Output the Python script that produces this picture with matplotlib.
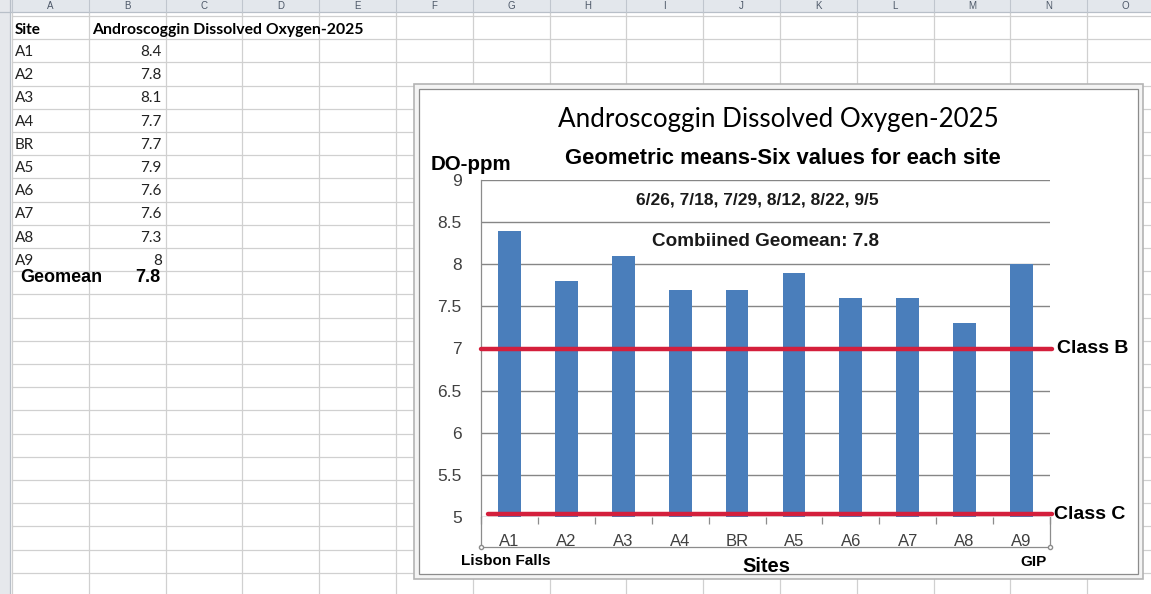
import matplotlib
matplotlib.use("Agg")
import matplotlib.pyplot as plt
from matplotlib.patches import Rectangle
import numpy as np

# ---------------- data ----------------
sites = ["A1", "A2", "A3", "A4", "BR", "A5", "A6", "A7", "A8", "A9"]
do_ppm = [8.4, 7.8, 8.1, 7.7, 7.7, 7.9, 7.6, 7.6, 7.3, 8.0]
geomean = 7.8
class_b_level = 7.0
class_c_level = 5.03
y_ticks = [5, 5.5, 6, 6.5, 7, 7.5, 8, 8.5, 9]
column_letters = list("ABCDEFGHIJKLMNO")
sheet_title = "Androscoggin Dissolved Oxygen-2025"
chart_title = "Androscoggin Dissolved Oxygen-2025"
chart_subtitle = "Geometric means-Six values for each site"
sampling_dates = "6/26, 7/18, 7/29, 8/12, 8/22, 9/5"
combined_note = "Combiined Geomean: 7.8"

# ---------------- figure ----------------
W, H = 1151, 594
fig = plt.figure(figsize=(W / 100, H / 100), dpi=100)
fig.patch.set_facecolor("white")

bg = fig.add_axes([0, 0, 1, 1])
bg.set_xlim(0, W)
bg.set_ylim(H, 0)
bg.axis("off")

CAL = ["Lato", "DejaVu Sans"]
ARIAL = ["Liberation Sans", "DejaVu Sans"]
NARROW = ["Liberation Sans Narrow", "Liberation Sans", "DejaVu Sans"]

grid_c = "#d0d0d0"
col_w = 76.8
col_x0 = 12
row_h = 23.2
row_y0 = 16

# spreadsheet grid
for k in range(16):
    x = col_x0 + k * col_w
    bg.plot([x, x], [12, H], color=grid_c, lw=0.9, zorder=1)
for k in range(26):
    y = row_y0 + k * row_h
    bg.plot([col_x0, W], [y, y], color=grid_c, lw=0.9, zorder=1)

# header band & row-header strip
bg.add_patch(Rectangle((0, 0), W, 12, facecolor="#e3e7ec", edgecolor="none", zorder=2))
bg.plot([0, W], [12, 12], color="#b8bfc8", lw=0.9, zorder=3)
bg.add_patch(Rectangle((0, 0), 10, H, facecolor="#e6e8ec", edgecolor="none", zorder=2))
bg.plot([10.5, 10.5], [0, H], color="#b8bfc8", lw=0.9, zorder=3)
for k, letter in enumerate(column_letters):
    x = col_x0 + (k + 0.5) * col_w
    bg.text(x, 6, letter, ha="center", va="center", fontsize=7,
            color="#4d5868", family=ARIAL, zorder=4)
    bg.plot([col_x0 + k * col_w] * 2, [0, 12], color="#c0c6ce", lw=0.8, zorder=3)

# cell texts
bg.text(15, 30, "Site", ha="left", va="center", fontsize=11, weight="bold", family=CAL, zorder=4)
bg.text(92, 30, sheet_title, ha="left", va="center", fontsize=11.3, weight="bold", family=CAL, zorder=4)
for i, (s, v) in enumerate(zip(sites, do_ppm)):
    y = 52 + i * row_h
    bg.text(15, y, s, ha="left", va="center", fontsize=11, family=CAL, color="#222222", zorder=4)
    bg.text(162, y, f"{v:g}", ha="right", va="center", fontsize=11, family=CAL, color="#222222", zorder=4)
bg.text(20, 277, "Geomean", ha="left", va="center", fontsize=13, weight="bold", family=ARIAL, zorder=4)
bg.text(160, 277, f"{geomean:g}", ha="right", va="center", fontsize=13, weight="bold", family=ARIAL, zorder=4)

# chart object frame
bg.add_patch(Rectangle((414, 84), 729, 495, facecolor="#f4f4f4", edgecolor="#b4b4b4", lw=1.2, zorder=5))
bg.add_patch(Rectangle((419, 89), 719, 485, facecolor="white", edgecolor="#8c8c8c", lw=0.9, zorder=6))

# chart texts
bg.text(778, 120, chart_title, ha="center", va="center", fontsize=18.7, family=CAL, color="black", zorder=8)
bg.text(783, 158, chart_subtitle, ha="center", va="center", fontsize=15.8, weight="bold", family=ARIAL, zorder=8)
bg.text(431, 164, "DO-ppm", ha="left", va="center", fontsize=14.8, weight="bold", family=ARIAL, zorder=8)
bg.text(757, 200, sampling_dates, ha="center", va="center", fontsize=12.5, weight="bold", family=NARROW, color="#1a1a1a", zorder=8)
bg.text(766, 242, combined_note, ha="center", va="center", fontsize=13.6, weight="bold", family=NARROW, color="#1a1a1a", zorder=8)
bg.text(461, 561, "Lisbon Falls", ha="left", va="center", fontsize=11, weight="bold", family=ARIAL, zorder=8)
bg.text(766, 566, "Sites", ha="center", va="center", fontsize=14.5, weight="bold", family=ARIAL, zorder=8)
bg.text(1034, 562, "GIP", ha="center", va="center", fontsize=11, weight="bold", family=ARIAL, zorder=8)

# box under category axis (selected shape)
bg.plot([481, 1050], [547, 547], color="#8c8c8c", lw=0.9, zorder=8)
bg.plot([1050, 1050], [517, 547], color="#8c8c8c", lw=0.9, zorder=8)
bg.plot([481, 481], [517, 547], color="#8c8c8c", lw=0.9, zorder=8)
bg.plot([481, 1050], [547, 547], ls="none", marker="o", ms=3, mfc="white", mec="#8c8c8c", zorder=9)

# ---------------- bar chart axes ----------------
px_l, px_r, px_t, px_b = 481, 1050, 180, 517
ax = fig.add_axes([px_l / W, 1 - px_b / H, (px_r - px_l) / W, (px_b - px_t) / H])
ax.set_zorder(10)
ax.patch.set_alpha(0)
x = np.arange(len(sites))
ax.set_xlim(-0.5, len(sites) - 0.5)
ax.set_ylim(y_ticks[0], y_ticks[-1])
ax.set_yticks(y_ticks)
ax.set_yticklabels([f"{t:g}" for t in y_ticks])
ax.yaxis.grid(True, color="#868686", lw=1.0)
ax.set_axisbelow(True)
ax.bar(x, np.array(do_ppm) - y_ticks[0], bottom=y_ticks[0], width=0.4,
       color="#4a7ebb", zorder=3)
for s in ["top", "right", "bottom"]:
    ax.spines[s].set_visible(False)
ax.spines["left"].set_color("#8c8c8c")
ax.spines["left"].set_linewidth(0.9)
ax.tick_params(axis="y", length=0, pad=14, labelsize=12.5, labelcolor="#404040")
ax.set_xticks(x)
ax.set_xticklabels(sites)
ax.tick_params(axis="x", length=0, pad=12, labelsize=12, labelcolor="#404040")
for lab in ax.get_xticklabels() + ax.get_yticklabels():
    lab.set_family(NARROW)
ax.set_xticks(np.arange(-0.5, len(sites)), minor=True)
ax.tick_params(axis="x", which="minor", length=5, color="#8c8c8c", width=0.9, direction="out")

red = "#d41f3c"
ax.plot([-0.5, len(sites) - 0.47], [class_b_level] * 2, color=red, lw=3.2,
        solid_capstyle="round", zorder=5, clip_on=False)
ax.plot([-0.38, len(sites) - 0.47], [class_c_level] * 2, color=red, lw=3.2,
        solid_capstyle="round", zorder=5, clip_on=False)
ax.text(len(sites) - 0.38, class_b_level, "Class B", ha="left", va="center",
        fontsize=14, weight="bold", family=ARIAL, clip_on=False)
ax.text(len(sites) - 0.43, class_c_level, "Class C", ha="left", va="center",
        fontsize=14, weight="bold", family=ARIAL, clip_on=False)

fig.savefig("out.png", dpi=100)
